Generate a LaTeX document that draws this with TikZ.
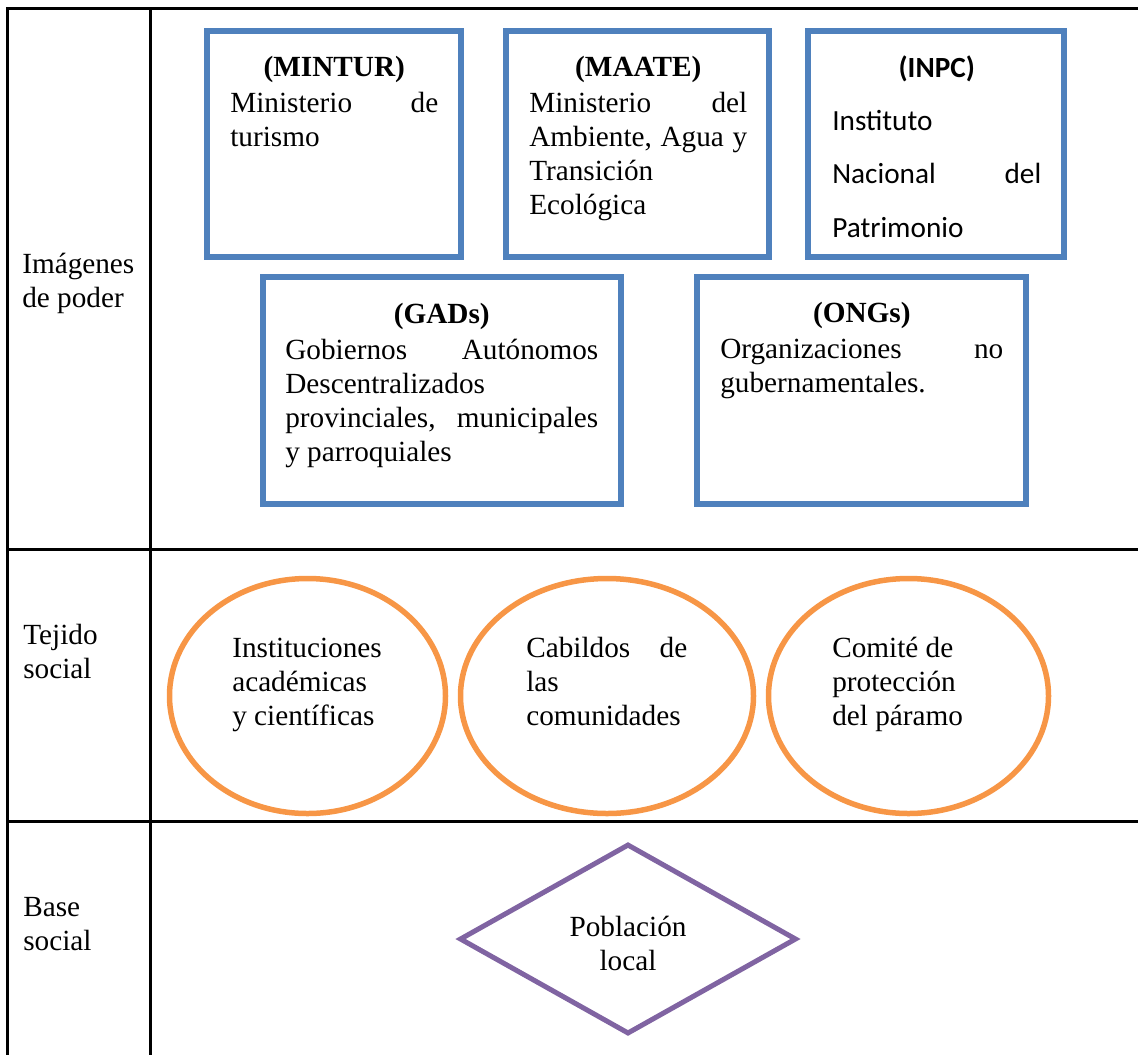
\documentclass[tikz,border=0pt]{standalone}
\usepackage{fontspec}
\setmainfont{Liberation Serif}
\newfontfamily\calibri{Carlito}
\usetikzlibrary{shapes.geometric}

\definecolor{boxblue}{HTML}{4F81BD}
\definecolor{ovalorange}{HTML}{F79646}
\definecolor{basepurple}{HTML}{8064A2}

\newcommand{\pu}{0.025cm}
\newcommand{\bodyfont}{\fontsize{20.8pt}{24.2pt}\selectfont}
\newcommand{\inpcfont}{\calibri\fontsize{20.8pt}{38pt}\selectfont}
\newcommand{\boxtitle}[1]{\makebox[\linewidth]{\textbf{#1}}}

\begin{document}
\begin{tikzpicture}[
    x=\pu, y=-\pu,
    grid/.style={draw=black, line width=3*\pu},
    actorbox/.style={
        rectangle, draw=boxblue, line width=6.5*\pu,
        inner sep=0pt, minimum height=226*\pu
    },
    oval/.style={
        ellipse, draw=ovalorange, line width=5.5*\pu,
        inner sep=0pt, minimum height=235*\pu
    },
    rhomb/.style={
        diamond, draw=basepurple, line width=5*\pu,
        inner sep=0pt
    },
    bodytext/.style={
        anchor=base west, inner sep=0pt, align=flush left, font=\bodyfont
    },
    rowlabel/.style={bodytext, text width=125*\pu},
]

\useasboundingbox (0,0) rectangle (1138,1054);

% Table grid
\draw[grid] (1140,8) -- (7,8) -- (7,1056);
\draw[grid] (150,8) -- (150,1056);
\draw[grid] (7,549) -- (1140,549);
\draw[grid] (7,821) -- (1140,821);

% Row labels
\node[rowlabel] (poder) at (22,273) {Imágenes\\ de poder};
\node[rowlabel] (tejido) at (23,644) {Tejido\\ social};
\node[rowlabel] (base) at (23,916) {Base\\ social};

% Row 1: Imagenes de poder (blue boxes)
\node[actorbox, minimum width=254*\pu] (mintur) at (334,144) {};
\node[bodytext, text width=208*\pu] (mintur-txt) at (230,76)
    {\boxtitle{(MINTUR)}\\[1.5pt]
     Ministerio\hfill de\\ turismo};

\node[actorbox, minimum width=263*\pu] (maate) at (637.5,144) {};
\node[bodytext, text width=218*\pu] (maate-txt) at (529,76)
    {\boxtitle{(MAATE)}\\[1.5pt]
     Ministerio\hfill del\\ Ambiente,\hfill Agua\hfill y\\ Transición\\ Ecológica};

\node[actorbox, minimum width=256*\pu] (inpc) at (936,144) {};
\node[bodytext, font=\inpcfont, text width=209*\pu] (inpc-txt) at (832,77)
    {\boxtitle{(INPC)}\\
     Instituto\\ Nacional\hfill del\\ Patrimonio};

\node[actorbox, minimum width=358*\pu, minimum height=227*\pu] (gads) at (442,390.5) {};
\node[bodytext, text width=313*\pu] (gads-txt) at (285,323)
    {\boxtitle{(GADs)}\\[2pt]
     Gobiernos\hfill Autónomos\\ Descentralizados\\
     provinciales,\hfill municipales\\ y parroquiales};

\node[actorbox, minimum width=329*\pu, minimum height=227*\pu] (ongs) at (861.5,390.5) {};
\node[bodytext, text width=283*\pu] (ongs-txt) at (720,322)
    {\boxtitle{(ONGs)}\\[2pt]
     Organizaciones\hfill no\\ gubernamentales.};

% Row 2: Tejido social (orange ovals)
\node[oval, minimum width=276*\pu] (academia) at (307.5,696) {};
\node[bodytext, text width=160*\pu] (academia-txt) at (232,657)
    {Instituciones\\ académicas\\ y científicas};

\node[oval, minimum width=293*\pu] (cabildos) at (607,696) {};
\node[bodytext, text width=161*\pu] (cabildos-txt) at (526,657)
    {Cabildos\hfill de\\ las\\ comunidades};

\node[oval, minimum width=280*\pu] (comite) at (908.5,696) {};
\node[bodytext, text width=150*\pu] (comite-txt) at (832,657)
    {Comité de\\ protección\\ del páramo};

% Row 3: Base social (purple diamond)
\node[rhomb, minimum width=337*\pu, minimum height=190*\pu] (poblacion) at (628,939) {};
\node[bodytext, anchor=base, align=center, text width=160*\pu] (poblacion-txt) at (628,936)
    {Población\\ local};

\end{tikzpicture}
\end{document}
